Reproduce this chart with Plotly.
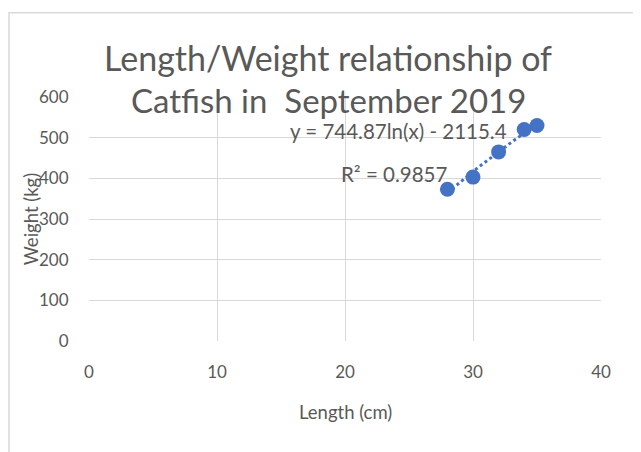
import numpy as np
import plotly.graph_objects as go

length_cm = [28, 30, 32, 34, 35]
weight_kg = [373, 403, 465, 520, 530]
x_ticks = [0, 10, 20, 30, 40]
y_ticks = [0, 100, 200, 300, 400, 500, 600]
title_line1 = "Length/Weight relationship of"
title_line2 = "Catfish in  September 2019"
eq_text = "y = 744.87ln(x) - 2115.4"
r2_text = "R² = 0.9857"
x_title = "Length (cm)"
y_title = "Weight (kg)"

# logarithmic trendline fitted to the data
b, a = np.polyfit(np.log(length_cm), weight_kg, 1)
tx = np.linspace(min(length_cm), max(length_cm), 60)
ty = b * np.log(tx) + a

W, H = 641, 452
OFF = 8  # page body margin
# plot area in screen pixels
PL, PR, PT, PB = 89, 601, 96.5, 341
L = PL - OFF
T = PT - OFF
R = W - (PR - OFF)
B = H - (PB - OFF)
grey = "#595959"
font = "Lato"
blue = "#4472C4"

fig = go.Figure()
fig.add_trace(go.Scatter(x=tx, y=ty, mode="lines",
                         line=dict(color=blue, width=3, dash="dot"),
                         hoverinfo="skip", showlegend=False))
fig.add_trace(go.Scatter(x=length_cm, y=weight_kg, mode="markers",
                         marker=dict(color=blue, size=15),
                         showlegend=False))

axis_common = dict(showgrid=True, gridcolor="#d9d9d9", gridwidth=1,
                   zeroline=False, showline=False,
                   tickfont=dict(family=font, size=17, color=grey),
                   ticks="outside", tickcolor="rgba(0,0,0,0)")
fig.update_xaxes(range=[0, 40], tickvals=x_ticks, ticklen=16, **axis_common)
fig.update_yaxes(range=[0, 600], tickvals=y_ticks, ticklen=16, **axis_common)

pw = PR - PL
ph = PB - PT
def px_x(p):
    return (p - PL) / pw
def px_y(p):
    return (PB - p) / ph

def ann(text, x, y, size, angle=0):
    return dict(text=text, x=px_x(x), y=px_y(y), xref="paper", yref="paper",
                showarrow=False, textangle=angle,
                font=dict(family=font, size=size, color=grey),
                xanchor="center", yanchor="middle")

anns = [
    ann(title_line1, 328, 57, 34),
    ann(title_line2, 328, 100, 33),
    ann(eq_text, 398, 131, 20.5),
    ann(r2_text, 394, 174, 20.5),
    ann(x_title, 345, 412, 18.5),
    ann(y_title, 31, 219, 18.5, -90),
]

shapes = [dict(type="rect", xref="paper", yref="paper",
               x0=px_x(9), x1=px_x(700), y0=px_y(12), y1=px_y(520),
               line=dict(color="#d9d9d9", width=1.5), fillcolor="rgba(0,0,0,0)", layer="below")]

fig.update_layout(width=W, height=H, margin=dict(l=L, r=R, t=T, b=B),
                  paper_bgcolor="white", plot_bgcolor="white",
                  annotations=anns, shapes=shapes, showlegend=False)

fig.write_html("out.html")
